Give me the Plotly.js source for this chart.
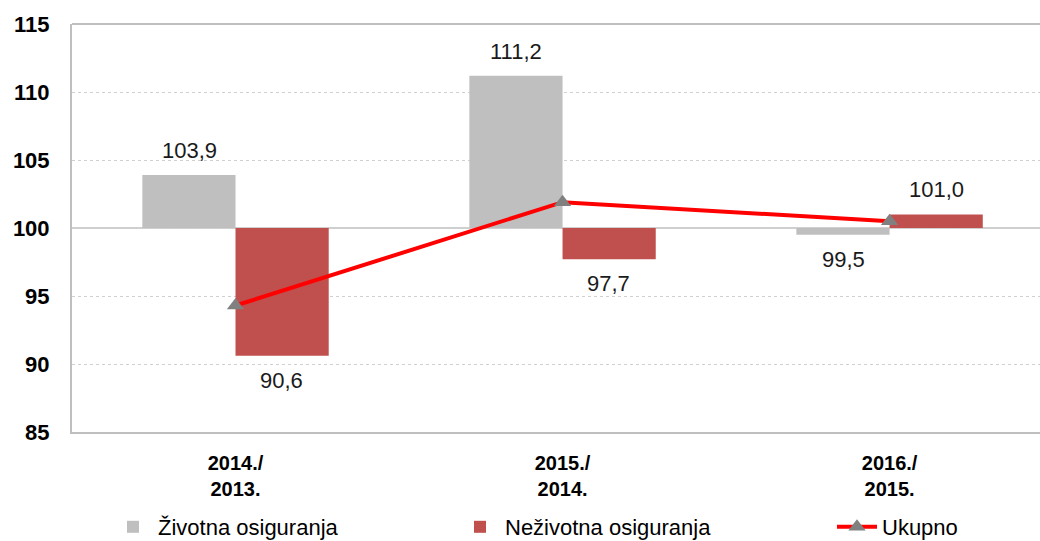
<!DOCTYPE html>
<html>
<head>
<meta charset="utf-8">
<script src="https://cdn.plot.ly/plotly-3.0.1.min.js"></script>
<style>html,body{margin:0;padding:0;background:#fff;}#chart{width:1040px;height:541px;}</style>
</head>
<body>
<div id="chart"></div>
<script>
const categories = ["2014./<br>2013.", "2015./<br>2014.", "2016./<br>2015."];
const zivotna = [103.9, 111.2, 99.5];
const nezivotna = [90.6, 97.7, 101.0];
const ukupno = [94.3, 101.9, 100.5];
const seriesNames = ["Životna osiguranja", "Neživotna osiguranja", "Ukupno"];
const baseValue = 100;
const yTicks = [85, 90, 95, 100, 105, 110, 115];

const fmt = v => v.toFixed(1).replace('.', ',');
const FONT = "Liberation Sans, Arial, sans-serif";

const traces = [
  {
    type: 'bar', name: seriesNames[0], x: categories,
    y: zivotna.map(v => v - baseValue), base: baseValue,
    marker: {color: '#bfbfbf'}, hoverinfo: 'skip', legend: 'legend'
  },
  {
    type: 'bar', name: seriesNames[1], x: categories,
    y: nezivotna.map(v => v - baseValue), base: baseValue,
    marker: {color: '#c0504d'}, hoverinfo: 'skip', legend: 'legend2'
  },
  {
    type: 'scatter', mode: 'lines+markers', name: seriesNames[2], x: categories, y: ukupno,
    line: {color: '#ff0000', width: 4},
    marker: {symbol: 'triangle-up', color: '#808080', size: 15}, hoverinfo: 'skip', legend: 'legend3'
  }
];

const halfOffset = 0.142;
const annotations = [];
[[zivotna, -halfOffset], [nezivotna, halfOffset]].forEach(([arr, off]) => {
  arr.forEach((v, i) => {
    const up = v >= baseValue;
    annotations.push({
      x: i + off, y: v, xref: 'x', yref: 'y', text: fmt(v), showarrow: false,
      yanchor: up ? 'bottom' : 'top', yshift: up ? 10 : -10,
      font: {family: FONT, size: 22, color: '#1a1a1a'}
    });
  });
});

function legendAt(px) {
  return {
    orientation: 'h', xref: 'container', yref: 'container',
    x: px / 1040, xanchor: 'left', y: 14 / 541, yanchor: 'middle',
    font: {family: FONT, size: 22, color: '#000'},
    itemwidth: 40, bgcolor: 'rgba(0,0,0,0)'
  };
}

const layout = {
  width: 1040, height: 541,
  margin: {l: 72, r: 0, t: 24, b: 109},
  paper_bgcolor: '#ffffff', plot_bgcolor: '#ffffff',
  barmode: 'group', bargap: 0.43, bargroupgap: 0,
  showlegend: true,
  legend: legendAt(108),
  legend2: legendAt(455),
  legend3: legendAt(832),
  xaxis: {
    type: 'category', range: [-0.5, 2.46],
    showgrid: false, showline: true, linecolor: '#bfbfbf', linewidth: 2,
    ticks: '', ticklabelstandoff: 12,
    tickfont: {family: FONT, size: 20, color: '#000', weight: 'bold'},
    fixedrange: true
  },
  yaxis: {
    range: [85, 115], tickvals: yTicks, ticktext: yTicks.map(String),
    showgrid: true, gridcolor: '#d0d0d0', griddash: 'dot', gridwidth: 1,
    showline: true, linecolor: '#bfbfbf', linewidth: 2,
    zeroline: false, ticks: '', ticklabelstandoff: 16,
    tickfont: {family: FONT, size: 22, color: '#000', weight: 'bold'},
    fixedrange: true
  },
  shapes: [
    {type: 'line', xref: 'paper', yref: 'y', x0: 0, x1: 1, y0: baseValue, y1: baseValue,
     line: {color: '#bfbfbf', width: 1.5}, layer: 'below'},
    {type: 'line', xref: 'paper', yref: 'paper', x0: 0, x1: 1, y0: 1, y1: 1,
     line: {color: '#bfbfbf', width: 2}}
  ],
  annotations: annotations
};

Plotly.newPlot('chart', traces, layout, {staticPlot: true, displayModeBar: false});
</script>
</body>
</html>
